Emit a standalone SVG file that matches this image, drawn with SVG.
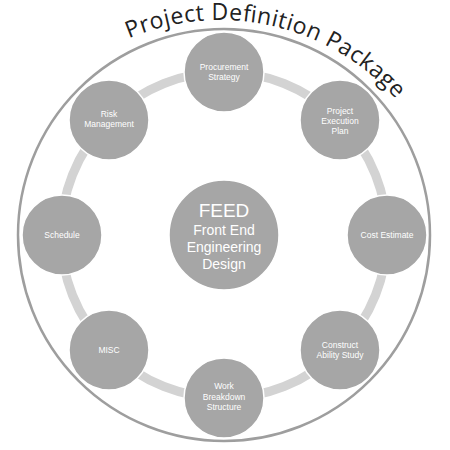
<svg xmlns="http://www.w3.org/2000/svg" width="450" height="450" viewBox="0 0 450 450">
<style>
.node circle{fill:#a6a6a6;stroke:#ffffff;stroke-width:1.5}
.lbl{font-family:"Liberation Sans",Arial,sans-serif;font-size:8.5px;fill:#ffffff;text-anchor:middle}
.big{font-family:"Liberation Sans",Arial,sans-serif;fill:#ffffff;text-anchor:middle}
</style>
<defs>
<path id="titleArc" d="M 85.2 62.5 A 235 235 0 0 1 423.5 137.5"/>
</defs>
<rect width="450" height="450" fill="#ffffff"/>
<g id="frame">
<circle cx="224" cy="235" r="206" fill="none" stroke="#9e9e9e" stroke-width="2.5"/>
<text font-family="'Open Sans','Liberation Sans',sans-serif" font-size="23" fill="#222222"><textPath href="#titleArc" startOffset="50" textLength="292" lengthAdjust="spacing">Project Definition Package</textPath></text>
</g>
<g id="connectors">
<circle cx="224" cy="235" r="163" fill="none" stroke="#d3d3d3" stroke-width="9"/>
</g>
<g id="feed" class="node">
<circle cx="224" cy="235" r="55"/>
<text class="big" x="224" y="217" font-size="19">FEED</text>
<text class="big" x="224" y="235" font-size="14">Front End</text>
<text class="big" x="224" y="252" font-size="14">Engineering</text>
<text class="big" x="224" y="269" font-size="14">Design</text>
</g>
<g id="procurement" class="node">
<circle cx="224" cy="72" r="40"/>
<text class="lbl" x="224" y="69.5">Procurement</text>
<text class="lbl" x="224" y="80">Strategy</text>
</g>
<g id="execution" class="node">
<circle cx="340" cy="120" r="40"/>
<text class="lbl" x="340" y="114">Project</text>
<text class="lbl" x="340" y="124">Execution</text>
<text class="lbl" x="340" y="134">Plan</text>
</g>
<g id="cost" class="node">
<circle cx="387" cy="235" r="40"/>
<text class="lbl" x="387" y="238">Cost Estimate</text>
</g>
<g id="construct" class="node">
<circle cx="340" cy="350" r="40"/>
<text class="lbl" x="340" y="348">Construct</text>
<text class="lbl" x="340" y="358">Ability Study</text>
</g>
<g id="wbs" class="node">
<circle cx="224" cy="398" r="40"/>
<text class="lbl" x="224" y="389">Work</text>
<text class="lbl" x="224" y="399.5">Breakdown</text>
<text class="lbl" x="224" y="410">Structure</text>
</g>
<g id="misc" class="node">
<circle cx="109" cy="350" r="40"/>
<text class="lbl" x="109" y="353">MISC</text>
</g>
<g id="schedule" class="node">
<circle cx="62" cy="235" r="40"/>
<text class="lbl" x="62" y="238">Schedule</text>
</g>
<g id="risk" class="node">
<circle cx="109" cy="120" r="40"/>
<text class="lbl" x="109" y="117">Risk</text>
<text class="lbl" x="109" y="127">Management</text>
</g>
</svg>
